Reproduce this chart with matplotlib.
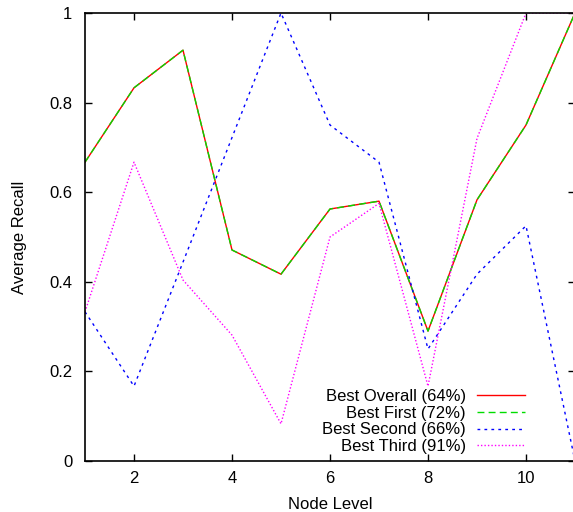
#!/usr/bin/env python3
import matplotlib
matplotlib.use("Agg")
import matplotlib.pyplot as plt

plt.rcParams['font.family'] = ['Liberation Sans', 'DejaVu Sans']

node_level = [1, 2, 3, 4, 5, 6, 7, 8, 9, 10, 11]
best_overall = [0.667, 0.833, 0.917, 0.471, 0.417, 0.5625, 0.58, 0.29, 0.583, 0.75, 1.0]
best_first = [0.667, 0.833, 0.917, 0.471, 0.417, 0.5625, 0.58, 0.29, 0.583, 0.75, 1.0]
best_second = [0.333, 0.167, 0.444, 0.722, 1.0, 0.75, 0.667, 0.25, 0.417, 0.525, 0.0]
best_third = [0.333, 0.667, 0.404, 0.281, 0.083, 0.5, 0.575, 0.167, 0.72, 1.0, 1.0]
labels = ["Best Overall (64%)", "Best First (72%)", "Best Second (66%)", "Best Third (91%)"]
xticks = [2, 4, 6, 8, 10]
yticks = [0, 0.2, 0.4, 0.6, 0.8, 1]
yticklabels = ["0", "0.2", "0.4", "0.6", "0.8", "1"]

fig = plt.figure(figsize=(5.73, 5.12), dpi=100)
ax = fig.add_axes([85/573, 51/512, 490/573, 448/512])

ax.plot(node_level, best_overall, color='red', lw=1.0, label=labels[0])
ax.plot(node_level, best_first, color='#00dd00', lw=1.0, dashes=(5, 3), label=labels[1])
ax.plot(node_level, best_second, color='blue', lw=1.0, dashes=(2, 3), label=labels[2])
ax.plot(node_level, best_third, color='magenta', lw=1.0, dashes=(1, 1.5), label=labels[3])

ax.set_xlim(1, 11)
ax.set_ylim(0, 1)
ax.set_xticks(xticks)
ax.set_yticks(yticks)
ax.set_yticklabels(yticklabels)
ax.tick_params(direction='in', length=5, width=1, top=True, right=True,
               labelsize=12)
ax.tick_params(axis='y', pad=9)
ax.tick_params(axis='x', pad=7)
for s in ax.spines.values():
    s.set_linewidth(1.2)

ax.set_xlabel("Node Level", fontsize=12, labelpad=8)
ax.set_ylabel("Average Recall", fontsize=12, labelpad=16)

ax.legend(loc='lower right', bbox_to_anchor=(525/573, (512-454)/512),
          bbox_transform=fig.transFigure, frameon=False, markerfirst=False,
          fontsize=12, handlelength=2.9, handletextpad=0.65, labelspacing=0.1,
          borderpad=0, borderaxespad=0)

fig.savefig("out.png", dpi=100)
